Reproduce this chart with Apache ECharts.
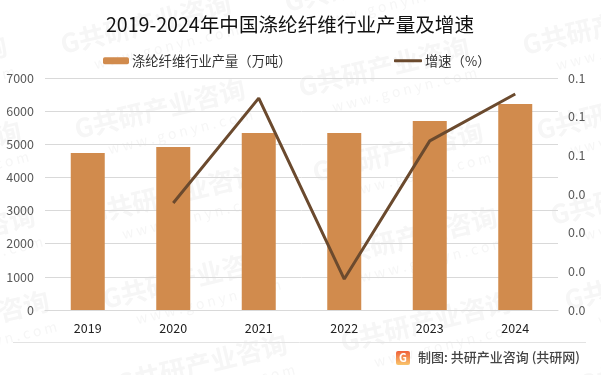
<!DOCTYPE html>
<html>
<head>
<meta charset="utf-8">
<style>
html, body { margin: 0; padding: 0; background: #fff; }
#chart { width: 601px; height: 375px; }
</style>
<script src="https://cdn.jsdelivr.net/npm/echarts@6/dist/echarts.min.js"></script>
</head>
<body>
<div id="chart"></div>
<script>
var years = ['2019', '2020', '2021', '2022', '2023', '2024'];
var output = [4740, 4920, 5340, 5340, 5705, 6215];
var growth = [null, 0.0415, 0.0822, 0.012, 0.0656, 0.0838];
var outputName = '涤纶纤维行业产量（万吨）';
var growthName = '增速（%）';
var fontName = '"Noto Sans CJK SC", sans-serif';

var chart = echarts.init(document.getElementById('chart'));

// watermark tiles
var marks = [];
for (var i = -1; i < 4; i++) {
    for (var j = -1; j < 5; j++) {
        var x = 78 + 224 * i + 14 * j;
        var y = 142 - 42 * i + 85 * j;
        marks.push({
            type: 'text', x: x, y: y, rotation: 0.24, z: -1, silent: true,
            style: { text: 'G共研产业咨询', fill: '#f6f6f6', font: 'bold 26px ' + fontName, textVerticalAlign: 'bottom' }
        });
        marks.push({
            type: 'text', x: x + 32, y: y + 14, rotation: 0.24, z: -1, silent: true,
            style: { text: 'w w w . g o n y n . c o m', fill: '#f6f6f6', font: '14px ' + fontName, textVerticalAlign: 'bottom' }
        });
    }
}

chart.setOption({
    animation: false,
    backgroundColor: '#fff',
    textStyle: { fontFamily: fontName },
    title: {
        text: '2019-2024年中国涤纶纤维行业产量及增速',
        left: 285,
        top: 10,
        textAlign: 'center',
        textStyle: { color: '#111', fontSize: 19.6, fontWeight: 'normal', fontFamily: fontName }
    },
    legend: [
        {
            left: 98,
            top: 49,
            itemWidth: 26,
            itemHeight: 7,
            textStyle: { color: '#333', fontSize: 13.3, fontFamily: fontName, padding: [0, 0, 0, -2] },
            data: [outputName]
        },
        {
            left: 389,
            top: 49,
            itemWidth: 28,
            itemHeight: 3,
            textStyle: { color: '#333', fontSize: 13.3, fontFamily: fontName, padding: [0, 0, 0, -2] },
            data: [{ name: growthName, icon: 'roundRect' }]
        }
    ],
    grid: { left: 45, right: 43, top: 78, bottom: 65 },
    xAxis: {
        type: 'category',
        data: years,
        axisTick: { show: false },
        axisLine: { lineStyle: { color: '#d9d9d9', width: 1 } },
        axisLabel: { color: '#222', fontSize: 12.5, margin: 12 }
    },
    yAxis: [
        {
            type: 'value',
            min: 0,
            max: 7000,
            interval: 1000,
            axisLine: { show: false },
            axisTick: { show: false },
            axisLabel: {
                color: '#595959',
                fontSize: 12.5,
                margin: 11,
                formatter: function (v) { return String(v); }
            },
            splitLine: { lineStyle: { color: '#d9d9d9', width: 1 } }
        },
        {
            type: 'value',
            min: 0,
            max: 0.09,
            interval: 0.015,
            position: 'right',
            axisLine: { show: false },
            axisTick: { show: false },
            splitLine: { show: false },
            axisLabel: {
                color: '#595959',
                fontSize: 12.5,
                margin: 10,
                formatter: function (v) { return v.toFixed(1); }
            }
        }
    ],
    series: [
        {
            name: outputName,
            type: 'bar',
            data: output,
            barWidth: 34,
            itemStyle: { color: '#d18b4d' }
        },
        {
            name: growthName,
            type: 'line',
            yAxisIndex: 1,
            data: growth,
            symbol: 'none',
            connectNulls: false,
            lineStyle: { color: '#6b4a2e', width: 3 },
            itemStyle: { color: '#6b4a2e' }
        }
    ],
    graphic: marks.concat([
        { type: 'line', silent: true, shape: { x1: 13, y1: 342.5, x2: 586, y2: 342.5 }, style: { stroke: '#e3e3e3', lineWidth: 1 } },
        {
            type: 'rect', silent: true, shape: { x: 396, y: 351, width: 14, height: 14, r: 2 },
            style: { fill: new echarts.graphic.LinearGradient(0, 0, 0, 1, [{ offset: 0, color: '#f0603a' }, { offset: 1, color: '#f9c56b' }]) }
        },
        { type: 'text', silent: true, x: 403, y: 358, style: { text: 'G', fill: '#fff', font: 'bold 11px ' + fontName, textAlign: 'center', textVerticalAlign: 'middle' } },
        { type: 'text', silent: true, x: 418, y: 357, style: { text: '制图: 共研产业咨询 (共研网)', fill: '#444', font: '500 13px ' + fontName, textVerticalAlign: 'middle' } }
    ])
});
</script>
</body>
</html>
